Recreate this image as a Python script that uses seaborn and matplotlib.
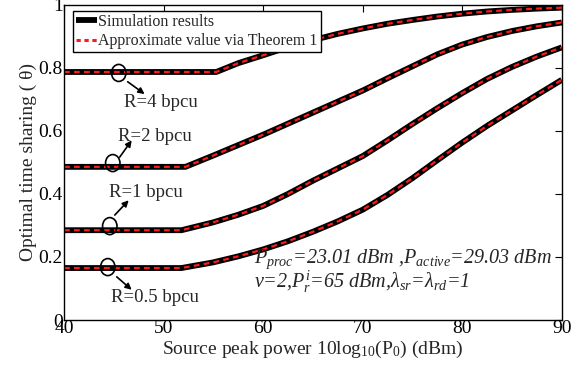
import numpy as np
import pandas as pd
import matplotlib
matplotlib.use("Agg")
import matplotlib.pyplot as plt
import seaborn as sns
from matplotlib.lines import Line2D
from matplotlib.patches import Ellipse

# ---------------- data ----------------
rates = ["R=4 bpcu", "R=2 bpcu", "R=1 bpcu", "R=0.5 bpcu"]

x_r4 = [40, 55.3, 57.5, 60, 62.5, 65, 67.5, 70, 72.5, 75, 77.5, 80, 82.5, 85, 87.5, 90]
y_r4 = [0.787, 0.787, 0.815, 0.840, 0.866, 0.888, 0.908, 0.925, 0.940, 0.952,
        0.963, 0.972, 0.979, 0.984, 0.988, 0.991]

x_r2 = [40, 52.2, 55, 57.5, 60, 62.5, 65, 67.5, 70, 72.5, 75, 77.5, 80, 82.5, 85, 87.5, 90]
y_r2 = [0.486, 0.486, 0.522, 0.555, 0.588, 0.623, 0.658, 0.693, 0.728, 0.767,
        0.805, 0.843, 0.874, 0.898, 0.917, 0.932, 0.944]

x_r1 = [40, 51.8, 55, 57.5, 60, 62.5, 65, 67.5, 70, 72.5, 75, 77.5, 80, 82.5, 85, 87.5, 90]
y_r1 = [0.285, 0.285, 0.310, 0.334, 0.362, 0.400, 0.442, 0.481, 0.520, 0.570,
        0.622, 0.672, 0.720, 0.765, 0.803, 0.836, 0.865]

x_r05 = [40, 51.8, 55, 57.5, 60, 62.5, 65, 67.5, 70, 72.5, 75, 77.5, 80, 82.5, 85, 87.5, 90]
y_r05 = [0.165, 0.165, 0.183, 0.202, 0.224, 0.250, 0.280, 0.313, 0.350, 0.397,
         0.450, 0.507, 0.563, 0.616, 0.665, 0.714, 0.762]

x_ticks = [40, 50, 60, 70, 80, 90]
y_ticks = [0, 0.2, 0.4, 0.6, 0.8, 1]
y_ticklabels = ["0", "0.2", "0.4", "0.6", "0.8", "1"]

frames = []
for name, xs, ys in zip(rates, [x_r4, x_r2, x_r1, x_r05], [y_r4, y_r2, y_r1, y_r05]):
    frames.append(pd.DataFrame({"x": xs, "y": ys, "R": name}))
df = pd.concat(frames, ignore_index=True)

# ---------------- style ----------------
sns.set_theme(style="white")
plt.rcParams["font.family"] = ["Liberation Serif", "DejaVu Serif"]
plt.rcParams["mathtext.fontset"] = "custom"
plt.rcParams["mathtext.rm"] = "Liberation Serif"
plt.rcParams["mathtext.it"] = "Liberation Serif:italic"
plt.rcParams["mathtext.bf"] = "Liberation Serif:bold"

fig = plt.figure(figsize=(5.87, 3.73), dpi=100)
ax = fig.add_axes([0.109, 0.142, 0.848, 0.845])

for name in rates:
    sub = df[df["R"] == name]
    sns.lineplot(data=sub, x="x", y="y", ax=ax, color="black", lw=4.2,
                 legend=False, estimator=None, sort=False, solid_capstyle="butt")
    sns.lineplot(data=sub, x="x", y="y", ax=ax, color="#ff1a1a", lw=1.6,
                 legend=False, estimator=None, sort=False, dashes=False,
                 linestyle=(0, (2.6, 1.9)))

ax.set_xlim(40, 90)
ax.set_ylim(0, 1)
ax.set_xticks(x_ticks)
ax.set_xticklabels([str(t) for t in x_ticks])
ax.set_yticks(y_ticks)
ax.set_yticklabels(y_ticklabels)
ax.tick_params(direction="in", length=5, width=0.8, top=True, right=True,
               labelsize=14, pad=1, colors="black")
ax.tick_params(axis="x", pad=0)
for s in ax.spines.values():
    s.set_color("black")
    s.set_linewidth(1.0)

ax.set_xlabel(r"Source peak power 10log$_{10}$(P$_0$) (dBm)", fontsize=14, labelpad=1)
ax.set_ylabel("Optimal time sharing ( \u03b8)", fontsize=14, labelpad=1)

# legend
handles = [Line2D([], [], color="black", lw=4.2, solid_capstyle="butt"),
           Line2D([], [], color="#ff1a1a", lw=2.2, linestyle=(0, (1.4, 1.2)))]
leg = ax.legend(handles, ["Simulation results", "Approximate value via Theorem 1"],
                loc="upper left", bbox_to_anchor=(0.018, 0.981), borderaxespad=0,
                fontsize=11.5, frameon=True, fancybox=False, handlelength=1.3,
                handletextpad=0.1, borderpad=0.2, labelspacing=0.2)
leg.get_frame().set_edgecolor("black")
leg.get_frame().set_linewidth(1.0)
leg.get_frame().set_alpha(1)

# rate annotations: circle centre, arrow tail, arrow head, text centre
circ_pos = [(45.5, 0.784), (44.9, 0.498), (44.6, 0.298), (44.4, 0.168)]
arrow_tail = [(46.4, 0.756), (45.6, 0.517), (45.1, 0.333), (45.3, 0.137)]
arrow_head = [(48.1, 0.717), (46.8, 0.570), (46.5, 0.380), (46.8, 0.096)]
text_pos = [(49.7, 0.689), (49.1, 0.581), (48.2, 0.406), (49.1, 0.070)]

for name, c, t0, t1, tp in zip(rates, circ_pos, arrow_tail, arrow_head, text_pos):
    ax.add_patch(Ellipse(c, 1.45, 0.054, fill=False, edgecolor="black", lw=1.2, zorder=5))
    ax.annotate("", xy=t1, xytext=t0,
                arrowprops=dict(arrowstyle="-|>", color="black", lw=1.2,
                                mutation_scale=9, shrinkA=0, shrinkB=0))
    ax.text(tp[0], tp[1], name, fontsize=13.5, ha="center", va="center")

ax.text(59.1, 0.182, r"$P_{proc}$=23.01 dBm ,$P_{active}$=29.03 dBm",
        fontsize=14.5, fontstyle="italic", ha="left", va="baseline")
ax.text(59.1, 0.103, "\u03bd=2," + r"$P_{r}^{i}$=65 dBm,$\lambda_{sr}$=$\lambda_{rd}$=1",
        fontsize=14.5, fontstyle="italic", ha="left", va="baseline")

fig.savefig("out.png", dpi=100)
